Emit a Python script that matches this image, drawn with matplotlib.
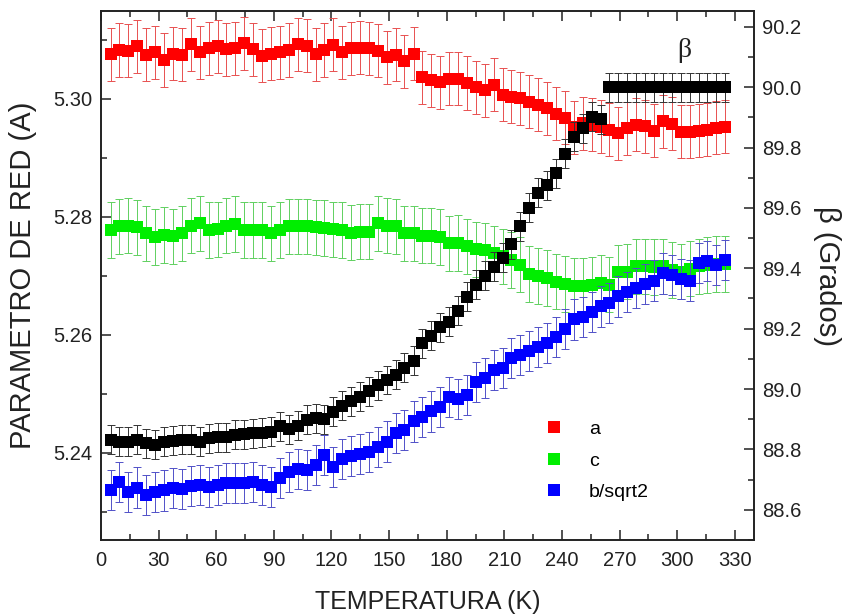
import numpy as np
import matplotlib
matplotlib.use('Agg')
import matplotlib.pyplot as plt
from matplotlib.lines import Line2D

plt.rcParams['font.family'] = ['Liberation Sans', 'DejaVu Sans']

# temperaturas (K)
temps = [5.0, 9.6, 14.3, 18.9, 23.6, 28.2, 32.8, 37.5, 42.1, 46.7,
         51.4, 56.0, 60.7, 65.3, 69.9, 74.6, 79.2, 83.8, 88.5, 93.1,
         97.8, 102.4, 107.0, 111.7, 116.3, 120.9, 125.6, 130.2, 134.9, 139.5,
         144.1, 148.8, 153.4, 158.0, 162.7, 167.3, 172.0, 176.6, 181.2, 185.9,
         190.5, 195.1, 199.8, 204.4, 209.1, 213.7, 218.3, 223.0, 227.6, 232.2,
         236.9, 241.5, 246.2, 250.8, 255.4, 260.1, 264.7, 269.3, 274.0, 278.6,
         283.3, 287.9, 292.5, 297.2, 301.8, 306.4, 311.1, 315.7, 320.4, 325.0]

# parametro a
a_val = [5.3076, 5.3083, 5.3082, 5.3089, 5.3075, 5.3079, 5.3066, 5.3077, 5.3075, 5.3093,
         5.3079, 5.3086, 5.3089, 5.3084, 5.3086, 5.3094, 5.3084, 5.3073, 5.3077, 5.3079,
         5.3083, 5.3093, 5.3090, 5.3076, 5.3083, 5.3092, 5.3079, 5.3086, 5.3087, 5.3086,
         5.3082, 5.3071, 5.3075, 5.3064, 5.3077, 5.3037, 5.3032, 5.3028, 5.3034, 5.3034,
         5.3027, 5.3020, 5.3015, 5.3024, 5.3007, 5.3004, 5.3001, 5.2995, 5.2990, 5.2984,
         5.2975, 5.2968, 5.2952, 5.2959, 5.2956, 5.2953, 5.2948, 5.2942, 5.2950, 5.2956,
         5.2954, 5.2946, 5.2962, 5.2958, 5.2944, 5.2944, 5.2946, 5.2948, 5.2951, 5.2953]
a_err = 0.0045

# parametro c
c_val = [5.2778, 5.2784, 5.2785, 5.2782, 5.2772, 5.2766, 5.2769, 5.2767, 5.2772, 5.2785,
         5.2789, 5.2778, 5.2779, 5.2785, 5.2788, 5.2778, 5.2778, 5.2778, 5.2772, 5.2778,
         5.2784, 5.2784, 5.2784, 5.2782, 5.2781, 5.2779, 5.2778, 5.2773, 5.2775, 5.2775,
         5.2789, 5.2785, 5.2784, 5.2772, 5.2772, 5.2768, 5.2768, 5.2766, 5.2755, 5.2756,
         5.2750, 5.2745, 5.2743, 5.2738, 5.2733, 5.2727, 5.2719, 5.2703, 5.2700, 5.2696,
         5.2690, 5.2686, 5.2683, 5.2683, 5.2685, 5.2688, 5.2685, 5.2706, 5.2707, 5.2716,
         5.2716, 5.2715, 5.2716, 5.2710, 5.2707, 5.2712, 5.2716, 5.2718, 5.2720, 5.2720]
c_err = 0.0047

# parametro b/sqrt2
b_val = [5.2337, 5.2350, 5.2334, 5.2341, 5.2328, 5.2333, 5.2336, 5.2340, 5.2339, 5.2344,
         5.2345, 5.2342, 5.2345, 5.2348, 5.2348, 5.2349, 5.2351, 5.2346, 5.2342, 5.2357,
         5.2368, 5.2372, 5.2370, 5.2379, 5.2396, 5.2376, 5.2390, 5.2394, 5.2398, 5.2402,
         5.2410, 5.2419, 5.2433, 5.2438, 5.2453, 5.2460, 5.2470, 5.2477, 5.2495, 5.2491,
         5.2498, 5.2520, 5.2527, 5.2540, 5.2543, 5.2560, 5.2565, 5.2572, 5.2580, 5.2586,
         5.2596, 5.2610, 5.2626, 5.2630, 5.2639, 5.2648, 5.2654, 5.2665, 5.2673, 5.2680,
         5.2686, 5.2692, 5.2704, 5.2702, 5.2694, 5.2692, 5.2721, 5.2725, 5.2719, 5.2727]
b_err = 0.0034

# angulo beta (grados)
beta_val = [88.832, 88.826, 88.826, 88.832, 88.821, 88.815, 88.826, 88.829, 88.832, 88.832,
            88.826, 88.837, 88.840, 88.840, 88.848, 88.851, 88.853, 88.856, 88.859, 88.876,
            88.867, 88.878, 88.898, 88.903, 88.900, 88.925, 88.945, 88.960, 88.975, 88.992,
            89.012, 89.030, 89.047, 89.070, 89.093, 89.152, 89.176, 89.205, 89.223, 89.260,
            89.305, 89.345, 89.375, 89.405, 89.435, 89.480, 89.540, 89.600, 89.650, 89.675,
            89.715, 89.780, 89.835, 89.863, 89.902, 89.893, 90.0, 90.0, 90.0, 90.0,
            90.0, 90.0, 90.0, 90.0, 90.0, 90.0, 90.0, 90.0, 90.0, 90.0]
beta_err = 0.048

fig = plt.figure(figsize=(8.53, 6.14), dpi=100)
ax1 = fig.add_axes([0.1184, 0.1205, 0.7656, 0.8615])
ax2 = ax1.twinx()


def serie(ax, y, err, color, ecolor, z):
    # barras de error con topes y luego los cuadrados encima
    ax.errorbar(temps, y, yerr=err, fmt='none', ecolor=ecolor, elinewidth=0.7,
                capsize=3.0, capthick=0.7, zorder=z)
    ax.plot(temps, y, ls='none', marker='s', ms=8.5, mew=0, color=color, zorder=z + 0.5)


serie(ax1, a_val, a_err, '#ff0000', '#e85050', 2)
serie(ax1, c_val, c_err, '#00ee00', '#60d060', 3)
serie(ax1, b_val, b_err, '#0000ff', '#5050c8', 4)
serie(ax2, beta_val, beta_err, 'black', '#333333', 5)

ax1.set_xlim(0, 340)
ax1.set_ylim(5.2252, 5.3149)
ax2.set_ylim(88.50, 90.252)

ax1.set_xticks(np.arange(0, 331, 30))
ax1.set_xticks(np.arange(15, 331, 30), minor=True)
ax1.set_yticks([5.24, 5.26, 5.28, 5.30])
ax1.set_yticklabels(['5.24', '5.26', '5.28', '5.30'])
ax1.set_yticks([5.23, 5.25, 5.27, 5.29, 5.31], minor=True)
ax2.set_yticks([88.6, 88.8, 89.0, 89.2, 89.4, 89.6, 89.8, 90.0, 90.2])
ax2.set_yticks(np.arange(88.5, 90.26, 0.1), minor=True)

ax1.tick_params(axis='x', which='both', direction='in', top=True, labelsize=14.5,
                pad=8, colors='#222222')
ax1.tick_params(axis='y', which='both', direction='in', right=False, labelsize=14.5,
                pad=6, colors='#222222')
ax2.tick_params(axis='y', which='both', direction='in', labelsize=14.5, pad=6,
                colors='#222222')
for ax in (ax1, ax2):
    ax.tick_params(which='major', length=7, width=1.1)
    ax.tick_params(which='minor', length=4, width=1.1)
    for s in ax.spines.values():
        s.set_linewidth(1.2)
        s.set_color('#222222')

ax1.set_xlabel('TEMPERATURA (K)', fontsize=18, labelpad=14, color='#222222')
ax1.set_ylabel('PARAMETRO DE RED (A)', fontsize=21, labelpad=12, color='#222222')
ax2.set_ylabel('β (Grados)', fontsize=21, rotation=270, labelpad=28, color='#222222')

ax2.text(303.5, 90.12, 'β', fontsize=20, family=['Liberation Serif', 'DejaVu Serif'],
         ha='center', va='center', color='#222222')

handles = [Line2D([], [], ls='none', marker='s', ms=8.5, mew=0, color=c)
           for c in ('#ff0000', '#00ee00', '#0000ff')]
ax2.legend(handles, ['a', 'c', 'b/sqrt2'], loc='upper left', bbox_to_anchor=(0.679, 0.226),
           frameon=False, fontsize=14, handlelength=1.0, handletextpad=1.3,
           labelspacing=0.72, borderpad=0, borderaxespad=0)

fig.savefig('out.png', dpi=100)
